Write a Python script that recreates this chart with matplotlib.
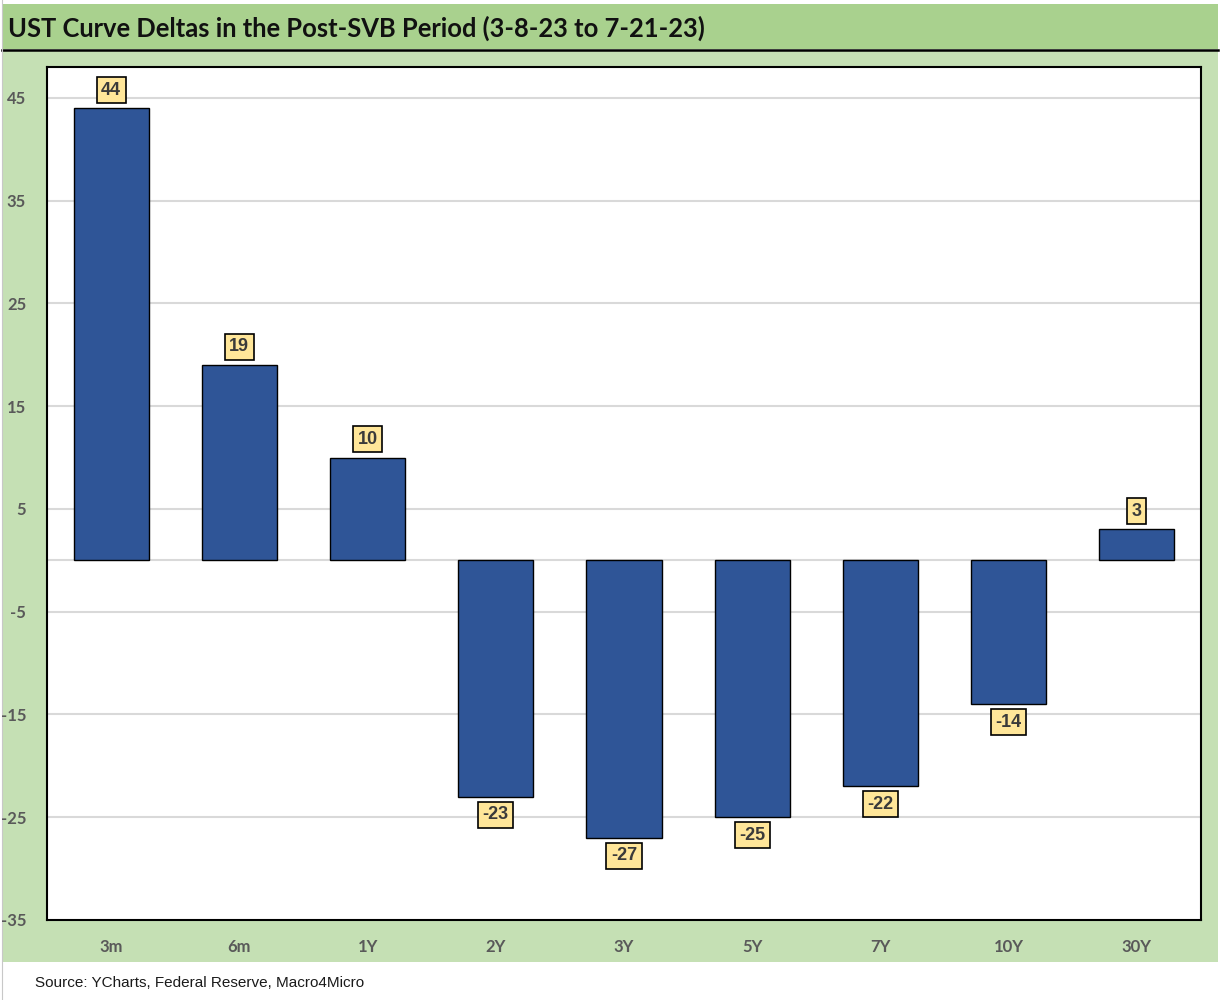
import matplotlib
matplotlib.use("Agg")
import matplotlib.pyplot as plt
from matplotlib.patches import Rectangle
import numpy as np

plt.rcParams["axes.unicode_minus"] = False

categories = ["3m", "6m", "1Y", "2Y", "3Y", "5Y", "7Y", "10Y", "30Y"]
deltas = [44, 19, 10, -23, -27, -25, -22, -14, 3]
yticks = [-35, -25, -15, -5, 5, 15, 25, 35, 45]
title = "UST Curve Deltas in the Post-SVB Period (3-8-23 to 7-21-23)"
source = "Source: YCharts, Federal Reserve, Macro4Micro"

W, H = 1220, 1000
fig = plt.figure(figsize=(W / 100, H / 100), dpi=100)
fig.patch.set_facecolor("white")

def fx(x): return x / W
def fy(y): return 1 - y / H

# background panels
fig.patches.append(Rectangle((fx(2), fy(962)), fx(1218) - fx(2), fy(50) - fy(962),
                             transform=fig.transFigure, facecolor="#c5e0b4", edgecolor="none", zorder=-2))
fig.patches.append(Rectangle((fx(2), fy(49)), fx(1218) - fx(2), fy(4) - fy(49),
                             transform=fig.transFigure, facecolor="#a9d18e", edgecolor="none", zorder=-2))
fig.lines.append(plt.Line2D([fx(2), fx(1218)], [fy(49.5), fy(49.5)], transform=fig.transFigure,
                            color="black", lw=1.8, zorder=-1))
fig.lines.append(plt.Line2D([fx(2), fx(2)], [fy(0), fy(1000)], transform=fig.transFigure,
                            color="#c8c8c8", lw=0.8, zorder=-1))

fig.text(fx(8), fy(28), title, fontsize=18.4, fontweight="bold",
         family=["Lato", "DejaVu Sans"], color="#111111", va="center", ha="left")
fig.text(fx(35), fy(983), source, fontsize=11, family=["Liberation Sans", "DejaVu Sans"],
         color="#1a1a1a", va="center", ha="left")

ax = fig.add_axes([fx(47), fy(920), fx(1201) - fx(47), fy(67) - fy(920)])
ax.set_zorder(2)
ax.set_facecolor("white")
x = np.arange(len(categories))
ax.bar(x, deltas, width=0.585, color="#2f5597", edgecolor="black", linewidth=1.0, zorder=3)
ax.set_xlim(-0.5, len(categories) - 0.5)
ax.set_ylim(-35, 48)
ax.set_yticks(yticks)
ax.set_xticks(x)
ax.set_xticklabels(categories)
for t in yticks[1:]:
    ax.axhline(t, color="#d9d9d9", lw=1.5, zorder=1)
ax.axhline(0, color="#d9d9d9", lw=1.5, zorder=1)
ax.tick_params(length=0, labelsize=12, labelcolor="#595959")
ax.tick_params(axis="y", pad=15)
ax.tick_params(axis="x", pad=14)
for lab in ax.get_xticklabels() + ax.get_yticklabels():
    lab.set_fontweight("bold")
    lab.set_family(["Lato", "DejaVu Sans"])
for s in ax.spines.values():
    s.set_color("black")
    s.set_linewidth(1.5)

for xi, v in zip(x, deltas):
    off = 13.0 if v >= 0 else -13.0
    ax.annotate(str(v), (xi, v), xytext=(0, off), textcoords="offset points",
                ha="center", va="center", fontsize=13, fontweight="bold",
                family=["Liberation Sans", "DejaVu Sans"], color="#3a3a3a", zorder=5,
                bbox=dict(boxstyle="square,pad=0.25", facecolor="#ffe699", edgecolor="black", lw=1.2))

fig.savefig("out.png", dpi=100)
